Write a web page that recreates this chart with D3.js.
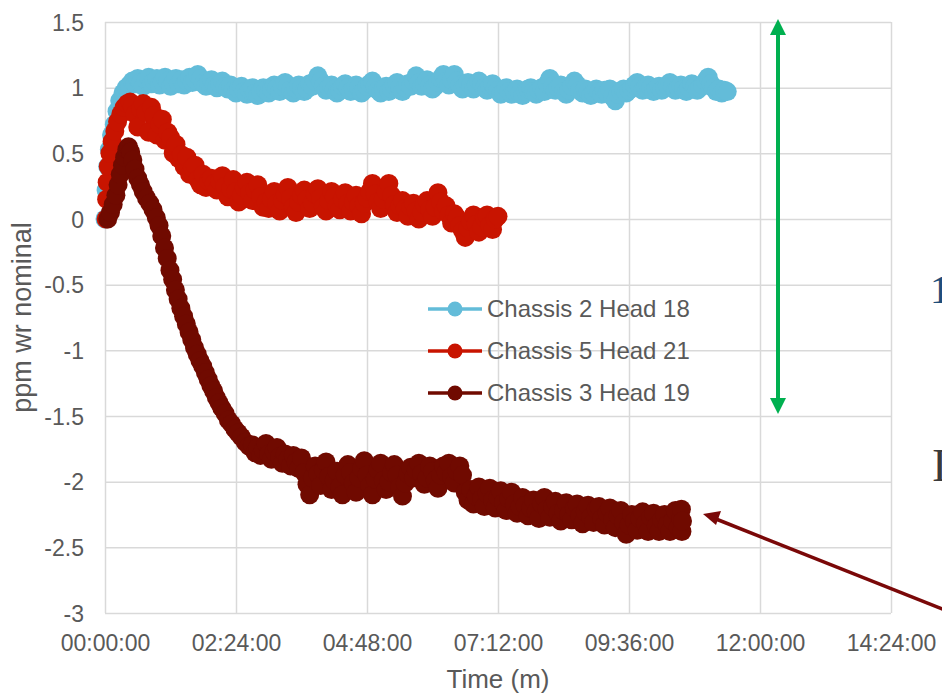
<!DOCTYPE html>
<html>
<head>
<meta charset="utf-8">
<script src="https://cdn.jsdelivr.net/npm/d3@7"></script>
<style>
  body { margin: 0; background: #fff; }
  text { font-family: "Liberation Sans", Arial, sans-serif; }
</style>
</head>
<body>
<div class="container"></div>
<script>
// time in hours since start, value in ppm wr nominal (logger reads every 3 min)
const chassis2Head18 = [
  [0, 0.00], [0.02, 0.22], [0.05, 0.40], [0.08, 0.53], [0.12, 0.64], [0.17, 0.72], [0.22, 0.82], [0.27, 0.90], [0.33, 0.96], [0.39, 1.00],
  [0.45, 1.02], [0.5, 1.05], [0.55, 1.03], [0.6, 1.07], [0.65, 1.04], [0.7, 1.01], [0.75, 1.06], [0.8, 1.08], [0.85, 1.03], [0.9, 1.05],
  [0.95, 1.07], [1.0, 1.02], [1.05, 1.04], [1.1, 1.08], [1.15, 1.05], [1.2, 1.01], [1.25, 1.04], [1.3, 1.07], [1.35, 1.03], [1.4, 1.06],
  [1.45, 1.02], [1.5, 1.05], [1.55, 1.08], [1.6, 1.04], [1.65, 1.06], [1.7, 1.10], [1.75, 1.07], [1.8, 1.03], [1.85, 1.01], [1.9, 1.04],
  [1.95, 1.06], [2.0, 1.02], [2.05, 1.00], [2.1, 1.03], [2.15, 1.05], [2.2, 1.01], [2.25, 0.99], [2.3, 1.02], [2.35, 0.98], [2.4, 0.96],
  [2.45, 0.99], [2.5, 1.01], [2.55, 0.97], [2.6, 0.95], [2.65, 0.98], [2.7, 1.00], [2.75, 0.96], [2.8, 0.94], [2.85, 0.97], [2.9, 1.00],
  [2.95, 0.98], [3.0, 0.96], [3.05, 0.99], [3.1, 1.02], [3.15, 1.00], [3.2, 0.97], [3.25, 1.01], [3.3, 1.04], [3.35, 1.02], [3.4, 0.98],
  [3.45, 0.96], [3.5, 0.99], [3.55, 1.02], [3.6, 1.00], [3.65, 0.97], [3.7, 0.99], [3.75, 1.03], [3.8, 1.01], [3.85, 1.05], [3.9, 1.09],
  [3.95, 1.05], [4.0, 1.01], [4.05, 0.98], [4.1, 1.00], [4.15, 1.02], [4.2, 0.99], [4.25, 0.96], [4.3, 0.98], [4.35, 1.01], [4.4, 1.03],
  [4.45, 1.00], [4.5, 0.97], [4.55, 0.99], [4.6, 1.02], [4.65, 1.00], [4.7, 0.96], [4.75, 0.98], [4.8, 1.01], [4.85, 1.03], [4.9, 1.05],
  [4.95, 1.01], [5.0, 0.98], [5.05, 0.96], [5.1, 0.99], [5.15, 1.01], [5.2, 0.97], [5.25, 0.99], [5.3, 1.02], [5.35, 1.04], [5.4, 1.00],
  [5.45, 0.97], [5.5, 1.00], [5.55, 1.03], [5.6, 1.01], [5.65, 1.05], [5.7, 1.09], [5.75, 1.04], [5.8, 1.01], [5.85, 1.03], [5.9, 1.06],
  [5.95, 1.02], [6.0, 0.99], [6.05, 1.01], [6.1, 1.04], [6.15, 1.07], [6.2, 1.10], [6.25, 1.05], [6.3, 1.02], [6.35, 1.06], [6.4, 1.10],
  [6.45, 1.05], [6.5, 1.02], [6.55, 0.99], [6.6, 1.01], [6.65, 1.04], [6.7, 1.02], [6.75, 0.99], [6.8, 1.02], [6.85, 1.05], [6.9, 1.03],
  [6.95, 1.00], [7.0, 0.98], [7.05, 1.01], [7.1, 1.03], [7.15, 1.00], [7.2, 0.98], [7.25, 0.95], [7.3, 0.97], [7.35, 1.00], [7.4, 0.97],
  [7.45, 0.95], [7.5, 0.97], [7.55, 0.99], [7.6, 0.96], [7.65, 0.94], [7.7, 0.97], [7.75, 0.99], [7.8, 1.00], [7.85, 0.97], [7.9, 0.95],
  [7.95, 0.98], [8.0, 1.00], [8.05, 0.97], [8.1, 1.03], [8.15, 1.07], [8.2, 1.01], [8.25, 0.98], [8.3, 1.00], [8.35, 1.02], [8.4, 0.97],
  [8.45, 0.95], [8.5, 0.98], [8.55, 1.01], [8.6, 1.05], [8.65, 1.02], [8.7, 0.98], [8.75, 0.96], [8.8, 0.99], [8.85, 0.97], [8.9, 0.94],
  [8.95, 0.96], [9.0, 0.99], [9.05, 0.97], [9.1, 0.95], [9.15, 0.98], [9.2, 0.96], [9.25, 0.99], [9.3, 0.93], [9.35, 0.90], [9.4, 0.95],
  [9.45, 0.97], [9.5, 0.99], [9.55, 0.96], [9.6, 0.98], [9.65, 1.00], [9.7, 1.02], [9.75, 1.04], [9.8, 1.01], [9.85, 0.98], [9.9, 1.00],
  [9.95, 1.02], [10.0, 1.00], [10.05, 0.97], [10.1, 0.99], [10.15, 1.01], [10.2, 0.98], [10.25, 1.00], [10.3, 1.02], [10.35, 1.04], [10.4, 1.01],
  [10.45, 0.98], [10.5, 1.00], [10.55, 1.02], [10.6, 0.99], [10.65, 0.97], [10.7, 1.00], [10.75, 1.03], [10.8, 1.01], [10.85, 0.98], [10.9, 1.00],
  [10.95, 1.02], [11.0, 1.05], [11.05, 1.08], [11.1, 1.03], [11.15, 1.00], [11.2, 0.97], [11.25, 0.99], [11.3, 0.96], [11.35, 0.98], [11.4, 0.97]
]

const chassis5Head21 = [
  [0.02, 0.00], [0.03, 0.15], [0.04, 0.28], [0.06, 0.40], [0.09, 0.50], [0.13, 0.59], [0.18, 0.67], [0.23, 0.74], [0.29, 0.80], [0.35, 0.85],
  [0.41, 0.88], [0.46, 0.89],
  [0.5, 0.86], [0.55, 0.80], [0.6, 0.70], [0.65, 0.84], [0.7, 0.88], [0.75, 0.81], [0.8, 0.66], [0.85, 0.85], [0.9, 0.79], [0.95, 0.64],
  [1.0, 0.72], [1.05, 0.76], [1.1, 0.60], [1.15, 0.66], [1.2, 0.62], [1.25, 0.50], [1.3, 0.57], [1.35, 0.46], [1.4, 0.49], [1.45, 0.40],
  [1.5, 0.47], [1.55, 0.34], [1.6, 0.39], [1.65, 0.41], [1.7, 0.30], [1.75, 0.26], [1.8, 0.34], [1.85, 0.24], [1.9, 0.29], [1.95, 0.31],
  [2.0, 0.27], [2.05, 0.22], [2.1, 0.29], [2.15, 0.33], [2.2, 0.25], [2.25, 0.17], [2.3, 0.23], [2.35, 0.30], [2.4, 0.21], [2.45, 0.13],
  [2.5, 0.18], [2.55, 0.24], [2.6, 0.28], [2.65, 0.20], [2.7, 0.14], [2.75, 0.22], [2.8, 0.26], [2.85, 0.17], [2.9, 0.09], [2.95, 0.13],
  [3.0, 0.08], [3.05, 0.15], [3.1, 0.21], [3.15, 0.12], [3.2, 0.06], [3.25, 0.14], [3.3, 0.19], [3.35, 0.24], [3.4, 0.16], [3.45, 0.09],
  [3.5, 0.05], [3.55, 0.13], [3.6, 0.18], [3.65, 0.22], [3.7, 0.15], [3.75, 0.08], [3.8, 0.12], [3.85, 0.19], [3.9, 0.23], [3.95, 0.16],
  [4.0, 0.09], [4.05, 0.06], [4.1, 0.14], [4.15, 0.21], [4.2, 0.17], [4.25, 0.10], [4.3, 0.07], [4.35, 0.15], [4.4, 0.20], [4.45, 0.12],
  [4.5, 0.06], [4.55, 0.13], [4.6, 0.18], [4.65, 0.10], [4.7, 0.04], [4.75, 0.12], [4.8, 0.16], [4.85, 0.21], [4.9, 0.27], [4.95, 0.19],
  [5.0, 0.13], [5.05, 0.08], [5.1, 0.15], [5.15, 0.21], [5.2, 0.27], [5.25, 0.18], [5.3, 0.11], [5.35, 0.05], [5.4, 0.10], [5.45, 0.14],
  [5.5, 0.08], [5.55, 0.02], [5.6, 0.09], [5.65, 0.12], [5.7, 0.06], [5.75, 0.00], [5.8, 0.05], [5.85, 0.11], [5.9, 0.14], [5.95, 0.07],
  [6.0, 0.02], [6.05, 0.09], [6.1, 0.20], [6.15, 0.13], [6.2, 0.06], [6.25, 0.10], [6.3, 0.03], [6.35, -0.03], [6.4, 0.04], [6.45, 0.01],
  [6.5, -0.05], [6.55, -0.09], [6.6, -0.14], [6.65, -0.07], [6.7, -0.02], [6.75, 0.03], [6.8, -0.04], [6.85, -0.10], [6.9, -0.06], [6.95, 0.01],
  [7.0, 0.03], [7.05, -0.05], [7.1, -0.08], [7.15, 0.00], [7.2, 0.02]
]

const chassis3Head19 = [
  [0.05, 0.00], [0.10, 0.05], [0.15, 0.11], [0.20, 0.18], [0.24, 0.26], [0.28, 0.34], [0.32, 0.41], [0.36, 0.47], [0.40, 0.53], [0.43, 0.55],
  [0.47, 0.51], [0.51, 0.45], [0.55, 0.38], [0.60, 0.31], [0.65, 0.26], [0.70, 0.21], [0.76, 0.16], [0.82, 0.12], [0.88, 0.07], [0.94, 0.01],
  [0.99, -0.05], [1.04, -0.13], [1.09, -0.22], [1.14, -0.30], [1.19, -0.39], [1.24, -0.46], [1.29, -0.54], [1.34, -0.61], [1.39, -0.68], [1.44, -0.74],
  [1.49, -0.80], [1.54, -0.86], [1.59, -0.92], [1.64, -0.98], [1.69, -1.03], [1.74, -1.08], [1.79, -1.12], [1.84, -1.17], [1.89, -1.22], [1.94, -1.27],
  [1.99, -1.31], [2.04, -1.36], [2.09, -1.40], [2.14, -1.44], [2.20, -1.48], [2.26, -1.53], [2.32, -1.56], [2.38, -1.60], [2.44, -1.63], [2.50, -1.66],
  [2.57, -1.70], [2.64, -1.73],
  [2.7, -1.72], [2.75, -1.78], [2.8, -1.74], [2.85, -1.80], [2.9, -1.76], [2.95, -1.71], [3.0, -1.79], [3.05, -1.83], [3.1, -1.77], [3.15, -1.74],
  [3.2, -1.81], [3.25, -1.86], [3.3, -1.79], [3.35, -1.83], [3.4, -1.88], [3.45, -1.80], [3.5, -1.85], [3.55, -1.90], [3.6, -1.82], [3.65, -1.93],
  [3.7, -2.02], [3.75, -2.10], [3.8, -1.97], [3.85, -1.88], [3.9, -1.94], [3.95, -2.03], [4.0, -1.91], [4.05, -1.85], [4.1, -1.96], [4.15, -2.06],
  [4.2, -1.99], [4.25, -1.92], [4.3, -2.04], [4.35, -2.10], [4.4, -1.95], [4.45, -1.87], [4.5, -1.93], [4.55, -2.01], [4.6, -2.08], [4.65, -1.97],
  [4.7, -1.90], [4.75, -1.84], [4.8, -1.95], [4.85, -2.03], [4.9, -2.10], [4.95, -1.98], [5.0, -1.91], [5.05, -1.86], [5.1, -1.99], [5.15, -2.06],
  [5.2, -2.00], [5.25, -1.93], [5.3, -1.87], [5.35, -1.95], [5.4, -2.04], [5.45, -2.11], [5.5, -2.01], [5.55, -1.94], [5.6, -1.89], [5.65, -1.97],
  [5.7, -1.91], [5.75, -1.86], [5.8, -1.94], [5.85, -2.02], [5.9, -1.97], [5.95, -1.88], [6.0, -1.92], [6.05, -1.99], [6.1, -2.05], [6.15, -1.95],
  [6.2, -1.88], [6.25, -1.93], [6.3, -1.86], [6.35, -1.96], [6.4, -2.01], [6.45, -1.92], [6.5, -1.88], [6.55, -1.95], [6.6, -2.08], [6.65, -2.14],
  [6.7, -2.06], [6.75, -2.17], [6.8, -2.11], [6.85, -2.04], [6.9, -2.13], [6.95, -2.19], [7.0, -2.09], [7.05, -2.05], [7.1, -2.14], [7.15, -2.20],
  [7.2, -2.12], [7.25, -2.07], [7.3, -2.16], [7.35, -2.22], [7.4, -2.13], [7.45, -2.08], [7.5, -2.17], [7.55, -2.24], [7.6, -2.19], [7.65, -2.12],
  [7.7, -2.18], [7.75, -2.26], [7.8, -2.20], [7.85, -2.14], [7.9, -2.23], [7.95, -2.28], [8.0, -2.17], [8.05, -2.12], [8.1, -2.21], [8.15, -2.27],
  [8.2, -2.19], [8.25, -2.15], [8.3, -2.24], [8.35, -2.30], [8.4, -2.22], [8.45, -2.16], [8.5, -2.25], [8.55, -2.29], [8.6, -2.20], [8.65, -2.17],
  [8.7, -2.26], [8.75, -2.32], [8.8, -2.23], [8.85, -2.18], [8.9, -2.27], [8.95, -2.31], [9.0, -2.21], [9.05, -2.19], [9.1, -2.28], [9.15, -2.33],
  [9.2, -2.24], [9.25, -2.20], [9.3, -2.29], [9.35, -2.35], [9.4, -2.26], [9.45, -2.22], [9.5, -2.31], [9.55, -2.40], [9.6, -2.33], [9.65, -2.25],
  [9.7, -2.30], [9.75, -2.37], [9.8, -2.28], [9.85, -2.23], [9.9, -2.32], [9.95, -2.38], [10.0, -2.27], [10.05, -2.24], [10.1, -2.34], [10.15, -2.38],
  [10.2, -2.29], [10.25, -2.25], [10.3, -2.33], [10.35, -2.38], [10.4, -2.30], [10.45, -2.22], [10.5, -2.35], [10.55, -2.28], [10.56, -2.21], [10.57, -2.38],
  [10.58, -2.30]
]

const seriesNames = ['Chassis 2 Head 18', 'Chassis 5 Head 21', 'Chassis 3 Head 19']
const seriesColors = ['#63BCD9', '#C81400', '#700A00']

const timeTicks = [0, 2.4, 4.8, 7.2, 9.6, 12, 14.4]
const timeTickLabels = ['00:00:00', '02:24:00', '04:48:00', '07:12:00', '09:36:00', '12:00:00', '14:24:00']
const ppmTicks = [1.5, 1, 0.5, 0, -0.5, -1, -1.5, -2, -2.5, -3]
const ppmTickLabels = ['1.5', '1', '0.5', '0', '-0.5', '-1', '-1.5', '-2', '-2.5', '-3']

let plotLeft = 105, plotRight = 891, plotTop = 22, plotBottom = 613
let textColor = '#595959'

let container = d3.select('.container')
    .append('svg')
    .attr('width', 942)
    .attr('height', 693)
    .style('display', 'block')

container.append('rect')
    .attr('width', 942)
    .attr('height', 693)
    .attr('fill', '#fff')

let x = d3.scaleLinear().domain([0, 14.4]).range([plotLeft, plotRight])
let y = d3.scaleLinear().domain([-3, 1.5]).range([plotBottom, plotTop])

let xAxis = container.append('g')
    .attr('transform', `translate(0,${plotBottom})`)
    .call(d3.axisBottom(x)
        .tickValues(timeTicks)
        .tickSize(-(plotBottom - plotTop))
        .tickPadding(22)
        .tickFormat((d, i) => timeTickLabels[i]))

let yAxis = container.append('g')
    .attr('transform', `translate(${plotLeft},0)`)
    .call(d3.axisLeft(y)
        .tickValues(ppmTicks)
        .tickSize(-(plotRight - plotLeft))
        .tickPadding(21)
        .tickFormat((d, i) => ppmTickLabels[i]))

container.selectAll('.domain').remove()
container.selectAll('.tick line')
    .attr('stroke', '#D9D9D9')
    .attr('stroke-width', 1.5)
container.selectAll('.tick text')
    .attr('fill', textColor)
    .style('font-family', '"Liberation Sans", Arial, sans-serif')
    .style('font-size', '23px')
yAxis.selectAll('.tick text').attr('dy', '0.35em')

container.append('text')
    .attr('x', (plotLeft + plotRight) / 2)
    .attr('y', 688)
    .attr('text-anchor', 'middle')
    .attr('fill', textColor)
    .style('font-size', '26px')
    .text('Time (m)')

container.append('text')
    .attr('transform', `translate(31,${(plotTop + plotBottom) / 2}) rotate(-90)`)
    .attr('text-anchor', 'middle')
    .attr('fill', textColor)
    .style('font-size', '27px')
    .text('ppm wr nominal')

let lineGraph = d3.line()
    .x(d => x(d[0]))
    .y(d => y(d[1]))

let allSeries = [chassis2Head18, chassis5Head21, chassis3Head19]

allSeries.forEach(function(data, i) {
    let g = container.append('g')
    g.append('path')
        .attr('d', lineGraph(data))
        .attr('fill', 'none')
        .attr('stroke', seriesColors[i])
        .attr('stroke-width', 3)
    g.selectAll('circle')
        .data(data)
        .enter().append('circle')
        .attr('cx', d => x(d[0]))
        .attr('cy', d => y(d[1]))
        .attr('r', 9.5)
        .style('fill', seriesColors[i])
})

let legend = container.append('g')
seriesNames.forEach(function(name, i) {
    let ly = 309 + i * 42
    legend.append('line')
        .attr('x1', 428).attr('x2', 482)
        .attr('y1', ly).attr('y2', ly)
        .attr('stroke', seriesColors[i])
        .attr('stroke-width', 3.5)
    legend.append('circle')
        .attr('cx', 455).attr('cy', ly)
        .attr('r', 7.5)
        .style('fill', seriesColors[i])
    legend.append('text')
        .attr('x', 487).attr('y', ly + 8)
        .attr('fill', textColor)
        .style('font-size', '24px')
        .text(name)
})

// green range arrow
let green = '#00B050'
container.append('line')
    .attr('x1', 778).attr('x2', 778)
    .attr('y1', 30).attr('y2', 403)
    .attr('stroke', green)
    .attr('stroke-width', 4)
container.append('path')
    .attr('d', 'M778,19 L770,35 L786,35 Z M778,414 L770,398 L786,398 Z')
    .attr('fill', green)

// pointer to end of dark red trace
let maroon = '#7A0808'
container.append('line')
    .attr('x1', 950).attr('x2', 716)
    .attr('y1', 612).attr('y2', 519)
    .attr('stroke', maroon)
    .attr('stroke-width', 3.5)
container.append('path')
    .attr('d', 'M703,514 L721,511 L716,525 Z')
    .attr('fill', maroon)

// slide text that runs past the right edge of the picture
container.append('text')
    .attr('x', 930).attr('y', 303)
    .attr('fill', '#1F4E79')
    .style('font-family', '"Liberation Serif", "Times New Roman", serif')
    .style('font-size', '40px')
    .text('1')
container.append('text')
    .attr('x', 932).attr('y', 481)
    .attr('fill', '#3A3A3A')
    .style('font-family', '"Liberation Serif", "Times New Roman", serif')
    .style('font-size', '46px')
    .text('I')
</script>
</body>
</html>
